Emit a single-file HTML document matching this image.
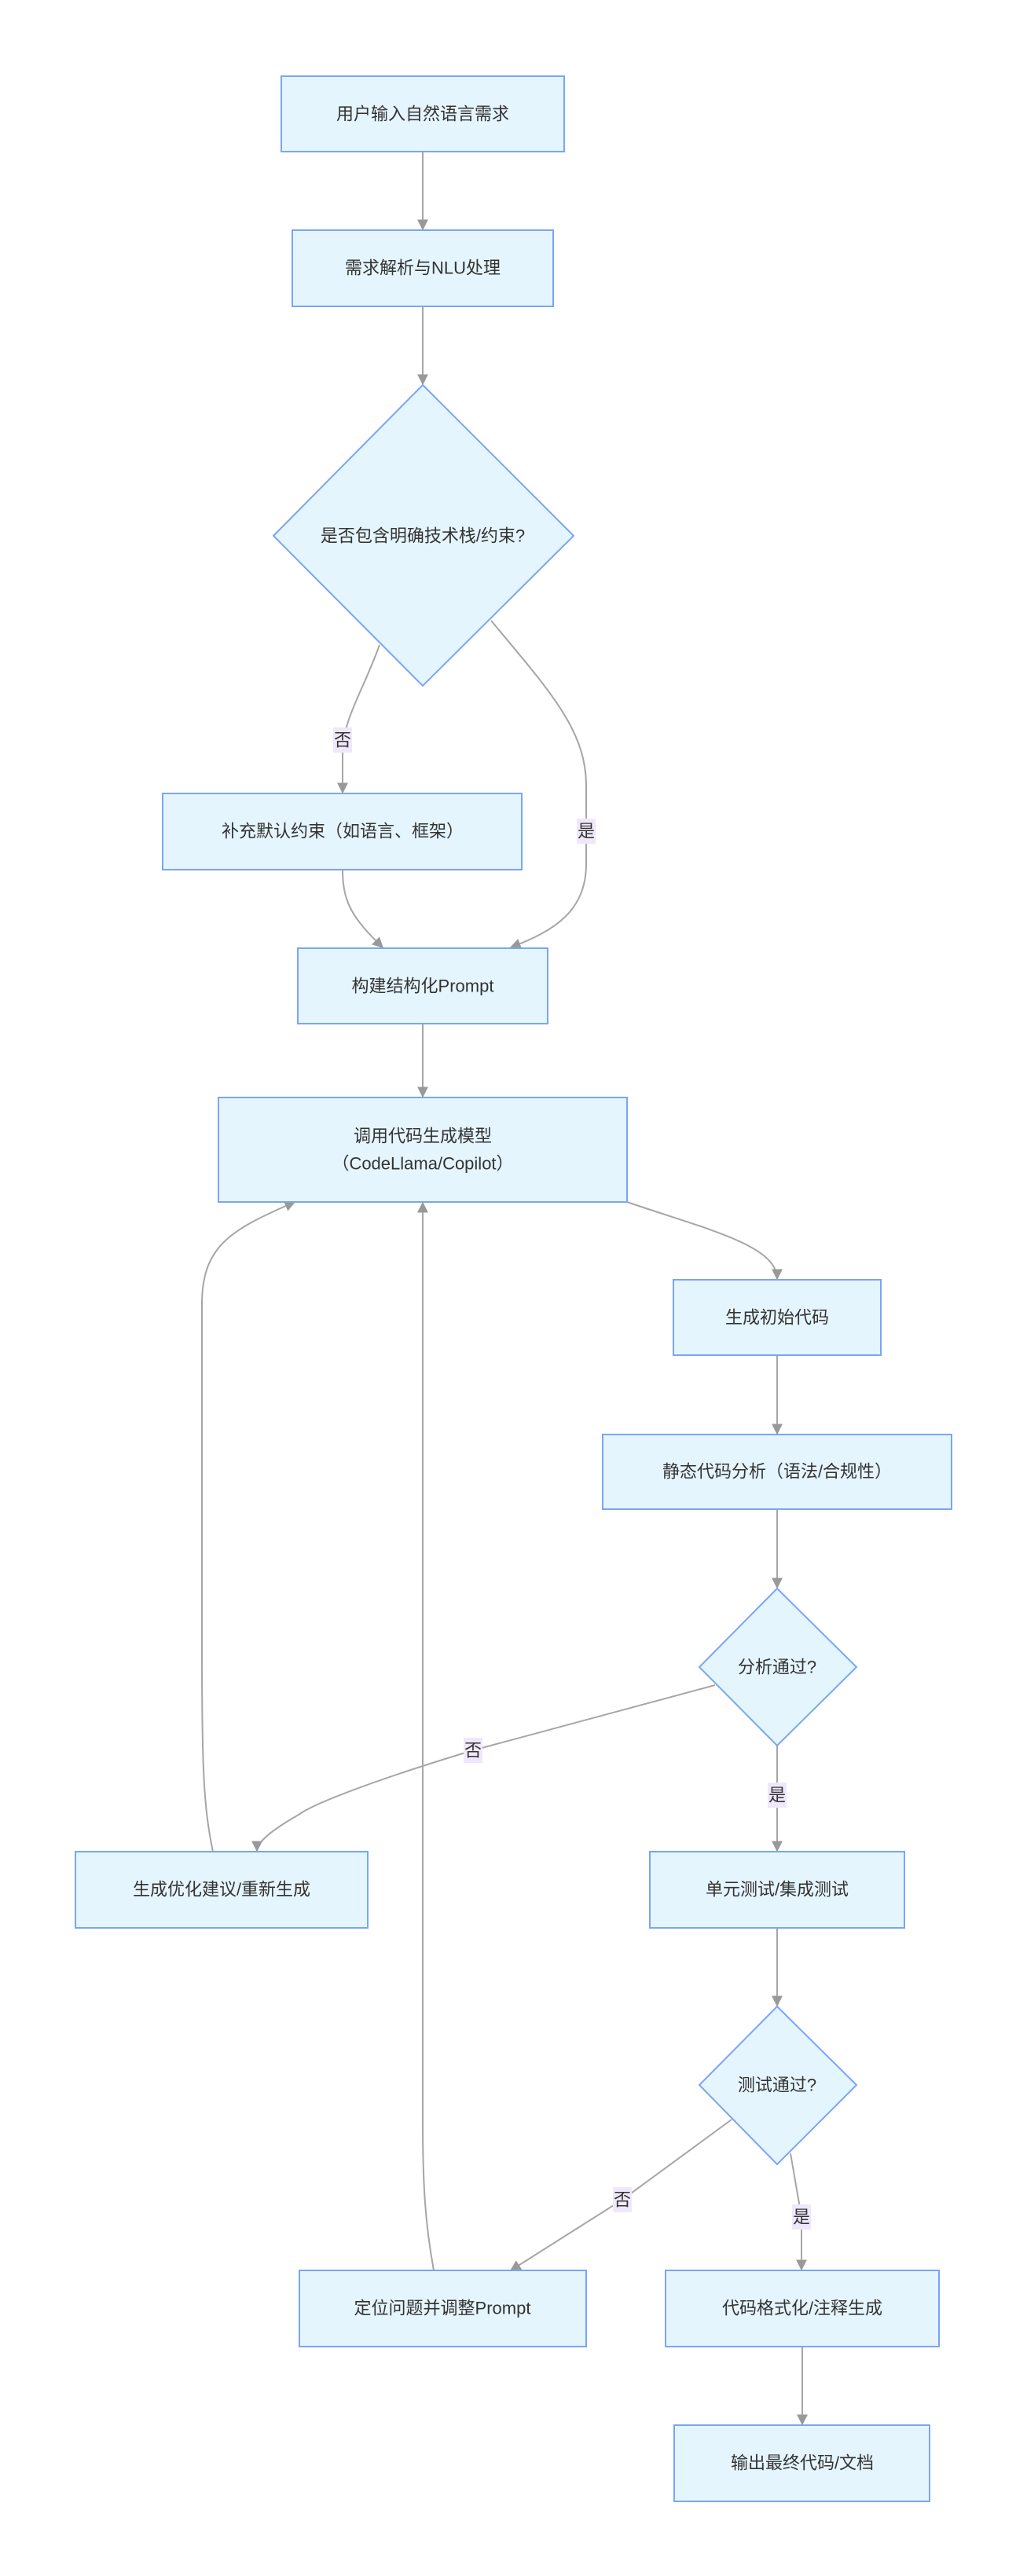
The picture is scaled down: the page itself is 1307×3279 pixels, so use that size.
<!DOCTYPE html>
<html><head><meta charset="utf-8"><style>
html,body{margin:0;padding:0;background:#fff;}
svg{display:block;}
text{font-family:"Liberation Sans","Noto Sans CJK SC",sans-serif;font-size:22px;fill:#333;}
.n{fill:#e5f5fd;stroke:#7aa5f5;stroke-width:2;}
.e{fill:none;stroke:#a6a6a6;stroke-width:2;}
.lb{fill:#efe8fb;}
</style></head><body>
<svg width="1307" height="3279" viewBox="0 0 1307 3279" xmlns="http://www.w3.org/2000/svg">
<defs><marker id="a" viewBox="0 0 10 10" refX="9" refY="5" markerUnits="userSpaceOnUse" markerWidth="14" markerHeight="14" orient="auto"><path d="M0,0 L10,5 L0,10 z" fill="#999"/></marker></defs>

<path class="e" d="M538,193 L538,292" marker-end="url(#a)"/>
<path class="e" d="M538,390 L538,489" marker-end="url(#a)"/>
<path class="e" d="M483,821 C462,880 436,915 436,960 L436,1009" marker-end="url(#a)"/>
<path class="e" d="M625,790 C700,880 746,930 746,1000 L746,1100 C746,1160 705,1185 650,1206" marker-end="url(#a)"/>
<path class="e" d="M436,1107 C436,1150 450,1170 487,1206" marker-end="url(#a)"/>
<path class="e" d="M538,1303 L538,1396" marker-end="url(#a)"/>
<path class="e" d="M798,1530 C900,1565 989,1585 989,1628" marker-end="url(#a)"/>
<path class="e" d="M989,1725 L989,1825" marker-end="url(#a)"/>
<path class="e" d="M989,1921 L989,2021" marker-end="url(#a)"/>
<path class="e" d="M989,2222 L989,2356" marker-end="url(#a)"/>
<path class="e" d="M910,2145 L602,2228 C480,2265 400,2295 380,2310 C345,2330 327,2345 327,2356" marker-end="url(#a)"/>
<path class="e" d="M271,2357 C259,2300 257,2250 257,2100 L257,1660 C257,1585 295,1565 375,1530" marker-end="url(#a)"/>
<path class="e" d="M989,2454 L989,2553" marker-end="url(#a)"/>
<path class="e" d="M931,2698 L792,2800 L650,2890" marker-end="url(#a)"/>
<path class="e" d="M1006,2741 L1020,2822 L1020,2889" marker-end="url(#a)"/>
<path class="e" d="M552,2890 C541,2830 538,2780 538,2700 L538,1531" marker-end="url(#a)"/>
<path class="e" d="M1021,2987 L1021,3086" marker-end="url(#a)"/>

<rect class="n" x="358" y="97" width="360" height="96"/>
<text x="538" y="145" text-anchor="middle" dominant-baseline="central">用户输入自然语言需求</text>
<rect class="n" x="372" y="293" width="332" height="97"/>
<text x="538" y="341" text-anchor="middle" dominant-baseline="central">需求解析与NLU处理</text>
<polygon class="n" points="538,490 730,682 538,873 348,682"/>
<text x="538" y="682" text-anchor="middle" dominant-baseline="central">是否包含明确技术栈/约束?</text>
<rect class="n" x="207" y="1010" width="457" height="97"/>
<text x="436" y="1058" text-anchor="middle" dominant-baseline="central">补充默认约束（如语言、框架）</text>
<rect class="n" x="379" y="1207" width="318" height="96"/>
<text x="538" y="1255" text-anchor="middle" dominant-baseline="central">构建结构化Prompt</text>
<rect class="n" x="278" y="1397" width="520" height="133"/>
<text x="538" y="1446" text-anchor="middle" dominant-baseline="central">调用代码生成模型</text>
<text x="538" y="1481" text-anchor="middle" dominant-baseline="central">（CodeLlama/Copilot）</text>
<rect class="n" x="857" y="1629" width="264" height="96"/>
<text x="989" y="1677" text-anchor="middle" dominant-baseline="central">生成初始代码</text>
<rect class="n" x="767" y="1826" width="444" height="95"/>
<text x="989" y="1873" text-anchor="middle" dominant-baseline="central">静态代码分析（语法/合规性）</text>
<polygon class="n" points="989,2022 1090,2122 989,2222 890,2122"/>
<text x="989" y="2122" text-anchor="middle" dominant-baseline="central">分析通过?</text>
<rect class="n" x="96" y="2357" width="372" height="97"/>
<text x="282" y="2405" text-anchor="middle" dominant-baseline="central">生成优化建议/重新生成</text>
<rect class="n" x="827" y="2357" width="324" height="97"/>
<text x="989" y="2405" text-anchor="middle" dominant-baseline="central">单元测试/集成测试</text>
<polygon class="n" points="989,2554 1090,2654 989,2755 890,2654"/>
<text x="989" y="2654" text-anchor="middle" dominant-baseline="central">测试通过?</text>
<rect class="n" x="381" y="2890" width="365" height="97"/>
<text x="563" y="2938" text-anchor="middle" dominant-baseline="central">定位问题并调整Prompt</text>
<rect class="n" x="847" y="2890" width="348" height="97"/>
<text x="1021" y="2938" text-anchor="middle" dominant-baseline="central">代码格式化/注释生成</text>
<rect class="n" x="858" y="3087" width="325" height="97"/>
<text x="1021" y="3135" text-anchor="middle" dominant-baseline="central">输出最终代码/文档</text>

<rect class="lb" x="424" y="926" width="24" height="32"/><text x="436" y="942" text-anchor="middle" dominant-baseline="central">否</text>
<rect class="lb" x="734" y="1042" width="24" height="32"/><text x="746" y="1058" text-anchor="middle" dominant-baseline="central">是</text>
<rect class="lb" x="590" y="2212" width="24" height="32"/><text x="602" y="2228" text-anchor="middle" dominant-baseline="central">否</text>
<rect class="lb" x="977" y="2269" width="24" height="32"/><text x="989" y="2285" text-anchor="middle" dominant-baseline="central">是</text>
<rect class="lb" x="780" y="2784" width="24" height="32"/><text x="792" y="2800" text-anchor="middle" dominant-baseline="central">否</text>
<rect class="lb" x="1008" y="2806" width="24" height="32"/><text x="1020" y="2822" text-anchor="middle" dominant-baseline="central">是</text>
</svg>
</body></html>
